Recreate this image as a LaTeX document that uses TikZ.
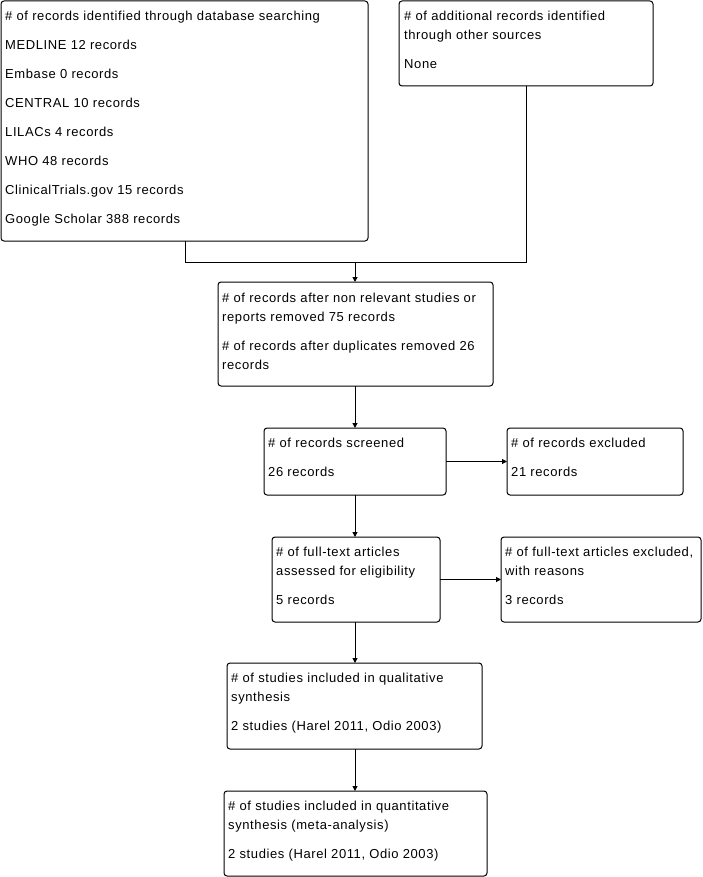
\documentclass[tikz,border=0pt]{standalone}
\usepackage{fontspec}
\setmainfont[LetterSpace=4.6]{Liberation Sans}
\usetikzlibrary{arrows.meta,calc}
\begin{document}
\begin{tikzpicture}[x=1pt,y=-1pt,
  box/.style={draw=black,line width=1pt,rounded corners=3pt,inner sep=0pt,outer sep=0pt,anchor=north west},
  txt/.style={anchor=north west,inner sep=0pt,align=left,font=\fontsize{13}{19}\selectfont},
  link/.style={draw=black,line width=1pt},
  arr/.style={link,-{Triangle[length=5pt,width=5pt]}}]
\useasboundingbox (0,0) rectangle (702,877);
% boxes
\node[box,minimum width=367pt,minimum height=240pt] (b1) at (1,1) {};
\node[box,minimum width=254pt,minimum height=85pt] (b2) at (399,1) {};
\node[box,minimum width=275pt,minimum height=104pt] (b3) at (218,282) {};
\node[box,minimum width=182pt,minimum height=67pt] (b4) at (264,428) {};
\node[box,minimum width=176pt,minimum height=67pt] (b5) at (507,428) {};
\node[box,minimum width=168pt,minimum height=85pt] (b6) at (272,537) {};
\node[box,minimum width=200pt,minimum height=85pt] (b7) at (501,537) {};
\node[box,minimum width=255pt,minimum height=86pt] (b8) at (227,663) {};
\node[box,minimum width=263pt,minimum height=85pt] (b9) at (224,791) {};
% texts
\node[txt] (t1) at ($(b1.north west)+(4,6)$) {\rule{0pt}{13pt}\# of records identified through database searching\\[10pt]
MEDLINE 12 records\\[10pt]
Embase 0 records\\[10pt]
CENTRAL 10 records\\[10pt]
LILACs 4 records\\[10pt]
WHO 48 records\\[10pt]
ClinicalTrials.gov 15 records\\[10pt]
Google Scholar 388 records};
\node[txt] (t2) at ($(b2.north west)+(5,6)$) {\rule{0pt}{13pt}\# of additional records identified\\through other sources\\[10pt]None};
\node[txt] (t3) at ($(b3.north west)+(4,7)$) {\rule{0pt}{13pt}\# of records after non relevant studies or\\reports removed 75 records\\[10pt]\# of records after duplicates removed 26\\records};
\node[txt] (t4) at ($(b4.north west)+(4,6)$) {\rule{0pt}{13pt}\# of records screened\\[10pt]26 records};
\node[txt] (t5) at ($(b5.north west)+(4,6)$) {\rule{0pt}{13pt}\# of records excluded\\[10pt]21 records};
\node[txt] (t6) at ($(b6.north west)+(4,6)$) {\rule{0pt}{13pt}\# of full-text articles\\assessed for eligibility\\[10pt]5 records};
\node[txt] (t7) at ($(b7.north west)+(4,6)$) {\rule{0pt}{13pt}\# of full-text articles excluded,\\with reasons\\[10pt]3 records};
\node[txt] (t8) at ($(b8.north west)+(4,6)$) {\rule{0pt}{13pt}\# of studies included in qualitative\\synthesis\\[10pt]2 studies (Harel 2011, Odio 2003)};
\node[txt] (t9) at ($(b9.north west)+(4,6)$) {\rule{0pt}{13pt}\# of studies included in quantitative\\synthesis (meta-analysis)\\[10pt]2 studies (Harel 2011, Odio 2003)};
% connectors
\coordinate (jl) at (185,262);
\coordinate (jm) at (355,262);
\coordinate (jr) at (526,262);
\draw[link] (b1.south -| jl) -- (jl) -- (jr) -- (b2.south -| jr);
\draw[arr] (jm) -- (b3.north -| jm);
\draw[arr] (b3.south -| jm) -- (b4.north -| jm);
\draw[arr] (b4.south -| jm) -- (b6.north -| jm);
\draw[arr] (b4.east) -- (b5.west |- b4.east);
\draw[arr] (b6.east) -- (b7.west |- b6.east);
\draw[arr] (b6.south -| jm) -- (b8.north -| jm);
\draw[arr] (b8.south -| jm) -- (b9.north -| jm);
\end{tikzpicture}
\end{document}
